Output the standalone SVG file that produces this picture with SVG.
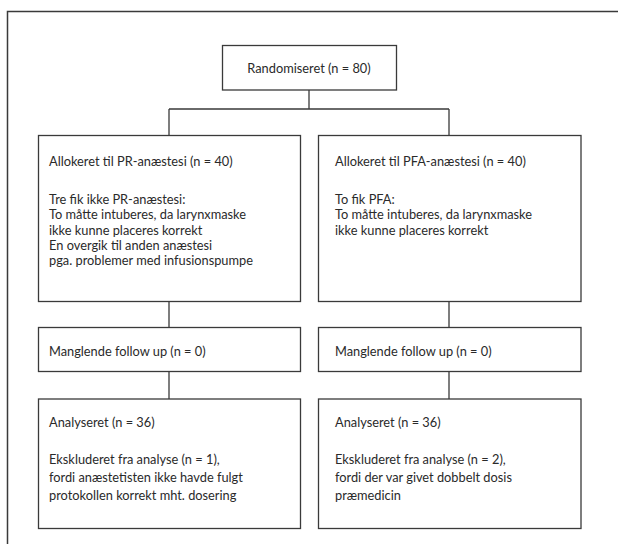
<svg xmlns="http://www.w3.org/2000/svg" width="618" height="544" viewBox="0 0 618 544">
<style>
.bx{fill:#fff;stroke:#3a3a3a;stroke-width:1.3}
.fr{fill:none;stroke:#3a3a3a;stroke-width:1.5}
.cn{fill:none;stroke:#3a3a3a;stroke-width:1.3}
text{font-family:Lato,"Liberation Sans",sans-serif;font-size:12.8px;fill:#2a2a2a}
</style>
<rect width="618" height="544" fill="#fff"/>
<path class="fr" d="M7.5,544 V11.5 H618"/>
<g id="connectors">
<path class="cn" d="M309,90 V109 M169,109 H449 M169,109 V135.5 M449,109 V135.5 M169,301.5 V327.5 M449,301.5 V327.5 M169,371.5 V399 M449,371.5 V399"/>
</g>
<g id="randomiseret">
<rect class="bx" x="222.5" y="45.5" width="174" height="44.5"/>
<text x="309" y="72.5" text-anchor="middle">Randomiseret (n = 80)</text>
</g>
<g id="pr">
<rect class="bx" x="38.5" y="135.5" width="262" height="166"/>
<text x="49" y="165.5">Allokeret til PR-anæstesi (n = 40)</text>
<text x="49" y="204">Tre fik ikke PR-anæstesi:</text>
<text x="49" y="219.3">To måtte intuberes, da larynxmaske</text>
<text x="49" y="234.6">ikke kunne placeres korrekt</text>
<text x="49" y="249.9">En overgik til anden anæstesi</text>
<text x="49" y="265.2">pga. problemer med infusionspumpe</text>
</g>
<g id="pfa">
<rect class="bx" x="318.5" y="135.5" width="262.5" height="166"/>
<text x="335" y="165.5">Allokeret til PFA-anæstesi (n = 40)</text>
<text x="335" y="204">To fik PFA:</text>
<text x="335" y="219.3">To måtte intuberes, da larynxmaske</text>
<text x="335" y="234.6">ikke kunne placeres korrekt</text>
</g>
<g id="followup-pr">
<rect class="bx" x="38.5" y="327.5" width="262" height="44"/>
<text x="49" y="355.5">Manglende follow up (n = 0)</text>
</g>
<g id="followup-pfa">
<rect class="bx" x="318.5" y="327.5" width="262.5" height="44"/>
<text x="335" y="355.5">Manglende follow up (n = 0)</text>
</g>
<g id="analyse-pr">
<rect class="bx" x="38.5" y="399" width="262" height="129.5"/>
<text x="49" y="427">Analyseret (n = 36)</text>
<text x="49" y="464">Ekskluderet fra analyse (n = 1),</text>
<text x="49" y="482">fordi anæstetisten ikke havde fulgt</text>
<text x="49" y="500">protokollen korrekt mht. dosering</text>
</g>
<g id="analyse-pfa">
<rect class="bx" x="318.5" y="399" width="262.5" height="129.5"/>
<text x="335" y="427">Analyseret (n = 36)</text>
<text x="335" y="464">Ekskluderet fra analyse (n = 2),</text>
<text x="335" y="482">fordi der var givet dobbelt dosis</text>
<text x="335" y="500">præmedicin</text>
</g>
</svg>
